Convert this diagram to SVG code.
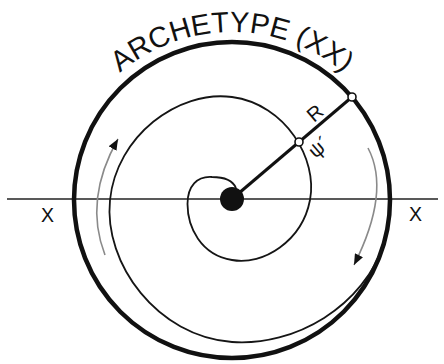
<svg xmlns="http://www.w3.org/2000/svg" width="444" height="364" viewBox="0 0 444 364">
<style>
.lbl{font-family:"Liberation Sans",Arial,sans-serif;fill:#111}
.thin{fill:none;stroke:#151515;stroke-width:1.8}
.arr{fill:none;stroke:#8a8a8a;stroke-width:1.6}
.pt{fill:#fff;stroke:#111;stroke-width:1.6}
</style>
<defs>
<marker id="ah" markerUnits="userSpaceOnUse" markerWidth="12" markerHeight="9" refX="11" refY="4.5" orient="auto">
<path d="M0,0 L11,4.5 L0,9 Z" fill="#111"/>
</marker>
<path id="titlePath" d="M81.3,119 A174,174 0 0 1 382.7,119"/>
</defs>
<rect width="444" height="364" fill="#fff"/>
<g id="title">
<text class="lbl" font-size="29"><textPath href="#titlePath" startOffset="50%" text-anchor="middle">ARCHETYPE (XX)</textPath></text>
</g>
<g id="axis">
<line x1="7" y1="199" x2="438" y2="199" stroke="#222" stroke-width="1.6"/>
<text class="lbl" x="47.5" y="222" font-size="19.5" text-anchor="middle">X</text>
<text class="lbl" x="415.5" y="221" font-size="19.5" text-anchor="middle">X</text>
</g>
<g id="outer-circle">
<circle cx="232" cy="200" r="158" fill="none" stroke="#111" stroke-width="4.5"/>
</g>
<g id="spiral">
<path class="thin" d="M236,188 C233,181 224,177 212,177 C197,176 187.5,186 187.5,204 C187.5,227 200.6,254.8 232,260 C263.4,265.8 302.2,240.8 310,200 C317.9,159.2 285.9,104.3 232,97 C178.1,89.7 116.5,136.1 110,200 C103.5,263.9 157.6,336.5 232,342 C294,346.6 364.7,306.9 384.6,240.9"/>
</g>
<g id="connectors">
<path class="arr" d="M105,255 Q83.5,199.5 118,139" marker-end="url(#ah)"/>
<path class="arr" d="M368,148 Q391,191.5 354,265" marker-end="url(#ah)"/>
<line x1="232" y1="199" x2="352" y2="97" stroke="#111" stroke-width="3"/>
</g>
<g id="center">
<circle cx="232" cy="199" r="12" fill="#111"/>
</g>
<g id="point-psi">
<circle class="pt" cx="299" cy="142" r="4"/>
<text class="lbl" font-size="20" text-anchor="middle" transform="translate(319,147) rotate(-40.6)" y="7">ψ´</text>
</g>
<g id="point-R">
<circle class="pt" cx="352" cy="97" r="4"/>
<text class="lbl" font-size="20" text-anchor="middle" transform="translate(315,113) rotate(-40.6)" y="7">R</text>
</g>
</svg>
